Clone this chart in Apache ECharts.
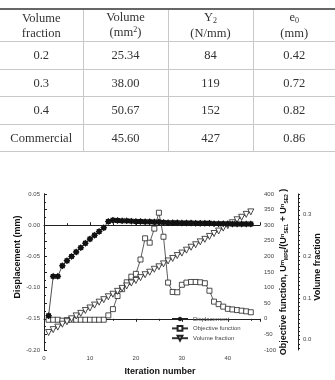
<!DOCTYPE html>
<html><head><meta charset="utf-8">
<script src="https://cdn.jsdelivr.net/npm/echarts@6/dist/echarts.min.js"></script>
<style>
html,body{margin:0;padding:0;background:#fff;width:335px;height:380px;overflow:hidden}
#chart{position:absolute;left:0;top:0;width:335px;height:380px}
#tbl{position:absolute;left:0;top:8px;width:335px;border-collapse:collapse;table-layout:fixed;font-family:"Liberation Serif","DejaVu Serif",serif;font-size:12.5px;color:#333;border-top:2px solid #666}
#tbl td{text-align:center;border:1px solid #c8c8c8;padding:0;line-height:15px}
#tbl tr td:first-child{border-left:none}
#tbl tr td:last-child{border-right:none}
#tbl sub{font-size:8px;vertical-align:baseline;position:relative;top:0.25em}
#tbl sup{font-size:8px;vertical-align:baseline;position:relative;top:-0.55em}
</style></head>
<body>
<div id="chart"></div>
<table id="tbl">
<colgroup><col style="width:83px"><col style="width:85px"><col style="width:85px"><col style="width:82px"></colgroup>
<tr style="height:30px"><td>Volume<br>fraction</td><td>Volume<br>(mm<sup>2</sup>)</td><td>Y<sub>2</sub><br>(N/mm)</td><td>e<sub>0</sub><br>(mm)</td></tr>
<tr style="height:28px"><td>0.2</td><td>25.34</td><td>84</td><td>0.42</td></tr>
<tr style="height:27px"><td>0.3</td><td>38.00</td><td>119</td><td>0.72</td></tr>
<tr style="height:28px"><td>0.4</td><td>50.67</td><td>152</td><td>0.82</td></tr>
<tr style="height:27px"><td>Commercial</td><td>45.60</td><td>427</td><td>0.86</td></tr>
</table>
<script>
const iterations = [1,2,3,4,5,6,7,8,9,10,11,12,13,14,15,16,17,18,19,20,21,22,23,24,25,26,27,28,29,30,31,32,33,34,35,36,37,38,39,40,41,42,43,44,45];
const displacement = [-0.145,-0.082,-0.082,-0.065,-0.057,-0.050,-0.043,-0.036,-0.029,-0.022,-0.016,-0.010,-0.004,0.006,0.008,0.0075,0.007,0.007,0.0065,0.006,0.006,0.0055,0.0055,0.005,0.005,0.0045,0.004,0.004,0.004,0.0035,0.0035,0.0035,0.003,0.003,0.003,0.003,0.0025,0.0025,0.0025,0.0025,0.002,0.002,0.002,0.002,0.002];
const objective = [-3,-3,-3,-6,-4,-3,-3,-3,-3,-3,-3,-3,-3,11,31,73,95,117,135,144,190,258,244,289,340,263,116,86,85,109,116,118,118,117,114,90,55,47,39,32,30,28,26,24,21];
const volumeFraction = [0.017,0.024,0.030,0.037,0.043,0.050,0.057,0.063,0.070,0.076,0.083,0.090,0.096,0.103,0.109,0.116,0.123,0.129,0.136,0.142,0.149,0.156,0.162,0.169,0.175,0.182,0.189,0.195,0.202,0.208,0.215,0.222,0.228,0.235,0.241,0.248,0.255,0.261,0.268,0.274,0.281,0.288,0.294,0.301,0.307];
const seriesNames = ['Displacement','Objective function','Volume fraction'];
const vfLabels = [0,0.1,0.2,0.3];
const vfTicks = [-0.02,-0.01,0,0.01,0.02,0.03,0.04,0.05,0.06,0.07,0.08,0.09,0.1,0.11,0.12,0.13,0.14,0.15,0.16,0.17,0.18,0.19,0.2,0.21,0.22,0.23,0.24,0.25,0.26,0.27,0.28,0.29,0.3,0.31,0.32,0.33,0.34,0.35];

const star = 'path://M100,50L85.1,35.5L85.4,14.6L64.5,14.9L50,0L35.5,14.9L14.6,14.6L14.9,35.5L0,50L14.9,64.5L14.6,85.4L35.5,85.1L50,100L64.5,85.1L85.4,85.4L85.1,64.5Z';
const pair = arr => iterations.map((x,i)=>[x,arr[i]]);
const ax = {lineStyle:{color:'#222',width:1}};
const lbl = {fontSize:6,color:'#444',fontFamily:'Liberation Sans, Arial, sans-serif'};
const titleFont = 'bold 9px "Liberation Sans", Arial, sans-serif';
const chart = echarts.init(document.getElementById('chart'));
chart.setOption({
  animation:false,
  backgroundColor:'transparent',
  grid:{left:44,right:75,top:194,bottom:30,show:false},
  legend:{orient:'vertical',left:166,top:311,itemWidth:16,itemHeight:6,itemGap:3,
    textStyle:{fontSize:6,color:'#444',fontFamily:'Liberation Sans, Arial, sans-serif'},
    data:seriesNames},
  xAxis:[
    {type:'value',min:0,max:47,interval:10,position:'bottom',axisLine:ax,
     axisTick:{inside:true,length:3,lineStyle:{color:'#222'}},
     minorTick:{show:true,splitNumber:2,length:2,lineStyle:{color:'#222'}},
     splitLine:{show:false},axisLabel:Object.assign({showMaxLabel:false,margin:5},lbl)},
    {type:'value',min:0,max:47,interval:10,position:'top',axisLine:ax,
     axisTick:{inside:true,length:3,lineStyle:{color:'#222'}},
     minorTick:{show:true,splitNumber:2,length:2,lineStyle:{color:'#222'}},
     splitLine:{show:false},axisLabel:{show:false}}
  ],
  yAxis:[
    {type:'value',min:-0.2,max:0.05,interval:0.05,position:'left',axisLine:Object.assign({show:true},ax),
     axisTick:{inside:true,length:3,lineStyle:{color:'#222'}},
     minorTick:{show:true,splitNumber:2,length:2,lineStyle:{color:'#222'}},
     splitLine:{show:false},axisLabel:Object.assign({margin:4,formatter:v=>v.toFixed(2)},lbl)},
    {type:'value',min:-100,max:400,interval:50,position:'right',axisLine:Object.assign({show:true},ax),
     axisTick:{show:true,inside:false,length:3,lineStyle:{color:'#222'}},
     minorTick:{show:true,splitNumber:2,length:2,lineStyle:{color:'#222'}},
     splitLine:{show:false},axisLabel:Object.assign({margin:4},lbl)},
    {type:'value',min:-0.025,max:0.35,position:'right',offset:38,axisLine:Object.assign({show:true},ax),
     axisTick:{show:true,inside:false,length:2,customValues:vfTicks,lineStyle:{color:'#222'}},
     splitLine:{show:false},axisLabel:Object.assign({margin:5,customValues:vfLabels,formatter:v=>v.toFixed(1)},lbl)}
  ],
  graphic:[
    {type:'text',x:18,y:257,rotation:Math.PI/2,
     style:{text:'Displacement (mm)',font:titleFont,fill:'#111',align:'center',verticalAlign:'middle'}},
    {type:'text',x:160,y:372,
     style:{text:'Iteration number',font:titleFont,fill:'#111',align:'center',verticalAlign:'middle'}},
    {type:'text',x:318,y:267,rotation:Math.PI/2,
     style:{text:'Volume fraction',font:titleFont,fill:'#111',align:'center',verticalAlign:'middle'}},
    {type:'text',x:284,y:272,rotation:Math.PI/2,
     style:{align:'center',verticalAlign:'middle',fill:'#111',
       text:'{b|Objective function, U}{sp|m}{sb|MPE}{b|/(U}{sp|n}{sb|SE1}{b| + U}{sp|n}{sb|SE2}{b| )}',
       rich:{
         b:{font:titleFont,fill:'#111',verticalAlign:'middle'},
         sp:{font:'bold 6px "Liberation Sans", Arial, sans-serif',fill:'#111',verticalAlign:'top',padding:[0,0,4,0]},
         sb:{font:'bold 5px "Liberation Sans", Arial, sans-serif',fill:'#111',verticalAlign:'bottom',padding:[4,0,0,0]}
       }}}
  ],
  series:[
    {name:seriesNames[1],type:'line',xAxisIndex:0,yAxisIndex:1,data:pair(objective),
     symbol:'rect',symbolSize:5,lineStyle:{color:'#333',width:0.8},
     itemStyle:{color:'#fff',borderColor:'#222',borderWidth:0.8},z:3},
    {name:seriesNames[2],type:'line',xAxisIndex:0,yAxisIndex:2,data:pair(volumeFraction),
     symbol:'triangle',symbolRotate:180,symbolSize:6,lineStyle:{color:'#333',width:0.8},
     itemStyle:{color:'#fff',borderColor:'#222',borderWidth:0.8},z:4},
    {name:seriesNames[0],type:'line',xAxisIndex:0,yAxisIndex:0,data:pair(displacement),
     symbol:star,symbolSize:7,lineStyle:{color:'#222',width:0.8},
     itemStyle:{color:'#111',borderColor:'#111',borderWidth:0},z:5}
  ]
});
</script>
</body></html>
